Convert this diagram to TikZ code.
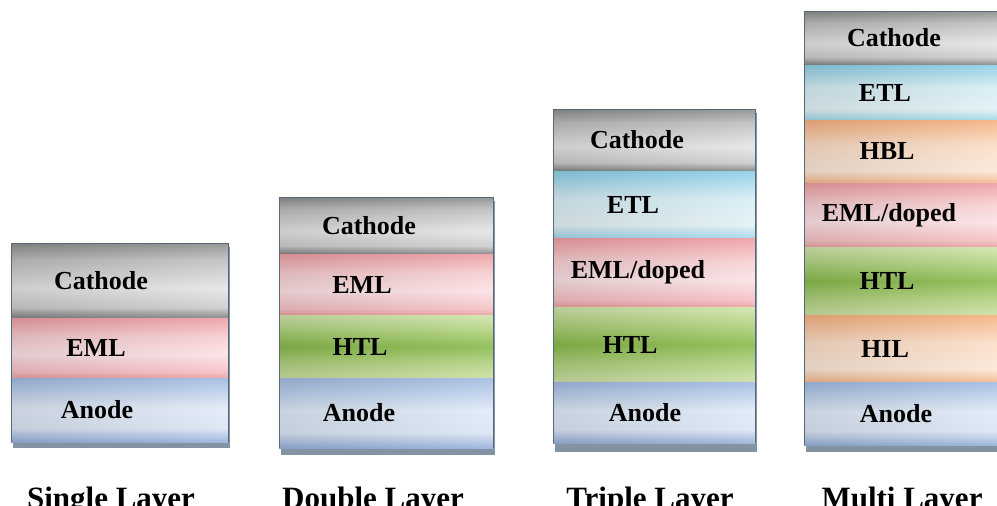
\documentclass[tikz,border=0pt]{standalone}
\usepackage{fontspec}
\setmainfont{Liberation Serif}
\usetikzlibrary{shadings}

\definecolor{edgec}{HTML}{56687A}
\definecolor{shadowc}{HTML}{8493A3}

% glossy layer fills; stops run from the top (25bp) to the bottom (75bp)
\pgfdeclareverticalshading{cathodesh}{100bp}{
  color(0bp)=(black!45); color(25bp)=(black!45); color(36bp)=(black!25);
  color(55bp)=(black!10); color(68bp)=(black!20); color(75bp)=(black!50); color(100bp)=(black!50)}
\pgfdeclareverticalshading{emlsh}{100bp}{
  rgb(0bp)=(.93,.62,.63); rgb(25bp)=(.93,.62,.63); rgb(40bp)=(.97,.80,.81);
  rgb(55bp)=(.99,.89,.90); rgb(70bp)=(.96,.75,.76); rgb(75bp)=(.92,.62,.63); rgb(100bp)=(.92,.62,.63)}
\pgfdeclareverticalshading{htlsh}{100bp}{
  rgb(0bp)=(.82,.90,.68); rgb(25bp)=(.82,.90,.68); rgb(36bp)=(.70,.83,.51);
  rgb(50bp)=(.54,.73,.30); rgb(64bp)=(.70,.83,.51); rgb(75bp)=(.80,.88,.64); rgb(100bp)=(.80,.88,.64)}
\pgfdeclareverticalshading{etlsh}{100bp}{
  rgb(0bp)=(.55,.81,.90); rgb(25bp)=(.55,.81,.90); rgb(45bp)=(.84,.93,.96);
  rgb(65bp)=(.89,.95,.97); rgb(75bp)=(.63,.84,.91); rgb(100bp)=(.63,.84,.91)}
\pgfdeclareverticalshading{hblsh}{100bp}{
  rgb(0bp)=(.96,.69,.50); rgb(25bp)=(.96,.69,.50); rgb(45bp)=(.99,.87,.78);
  rgb(65bp)=(.99,.91,.85); rgb(75bp)=(.96,.72,.55); rgb(100bp)=(.96,.72,.55)}
\pgfdeclareverticalshading{anodesh}{100bp}{
  rgb(0bp)=(.63,.73,.89); rgb(25bp)=(.63,.73,.89); rgb(48bp)=(.88,.92,.97);
  rgb(64bp)=(.86,.90,.96); rgb(75bp)=(.59,.69,.85); rgb(100bp)=(.59,.69,.85)}

\tikzset{
  cathode/.style={shading=cathodesh, shading angle=180},
  eml/.style={shading=emlsh, shading angle=180},
  htl/.style={shading=htlsh, shading angle=180},
  etl/.style={shading=etlsh, shading angle=180},
  hbl/.style={shading=hblsh, shading angle=180},
  anode/.style={shading=anodesh, shading angle=180},
  sheen/.style={left color=black, right color=white, opacity=0.10},
  lbl/.style={inner sep=0pt, font=\fontsize{26}{28}\selectfont\bfseries},
  caption/.style={inner sep=0pt, anchor=base, font=\fontsize{31}{34}\selectfont\bfseries},
  stackedge/.style={draw=edgec, line width=1pt},
  stackshadow/.style={fill=shadowc},
}

% one layer of a stack: name, x1, x2, y1, y2, look, text x, text
\newcommand\oledlayer[8]{%
  \shade[#6] (#2,#4) rectangle (#3,#5);
  \shade[sheen] (#2,#4) rectangle (#3,#5);
  \path (#2,#4) coordinate (#1-nw) (#3,#5) coordinate (#1-se);
  \node[lbl] (#1) at (#7,{(#4+#5)/2}) {#8};
}

\begin{document}
\begin{tikzpicture}[x=1pt,y=-1pt]
\useasboundingbox (0,0) rectangle (997,506);
\fill[white] (0,0) rectangle (997,506);
\clip (0,0) rectangle (997,506);

% drop shadows under the stacks
\fill[stackshadow] (13,247) rectangle (230,448);
\fill[stackshadow] (281,201) rectangle (495,455);
\fill[stackshadow] (555,113) rectangle (757,452);
\fill[stackshadow] (806,15) rectangle (1002,452);

% single layer
\oledlayer{s1}{11}{228}{243}{318}{cathode}{101}{Cathode}
\oledlayer{s2}{11}{228}{318}{378}{eml}{96}{EML}
\oledlayer{s3}{11}{228}{378}{442}{anode}{97}{Anode}
\draw[stackedge] (s3-se -| s1-nw) -- (s1-nw) -- (s1-nw -| s3-se) -- (s3-se);

% double layer
\oledlayer{d1}{279}{493}{197}{254}{cathode}{369}{Cathode}
\oledlayer{d2}{279}{493}{254}{315}{eml}{362}{EML}
\oledlayer{d3}{279}{493}{315}{378}{htl}{360}{HTL}
\oledlayer{d4}{279}{493}{378}{448}{anode}{359}{Anode}
\draw[stackedge] (d4-se -| d1-nw) -- (d1-nw) -- (d1-nw -| d4-se) -- (d4-se);

% triple layer
\oledlayer{t1}{553}{755}{109}{171}{cathode}{637}{Cathode}
\oledlayer{t2}{553}{755}{171}{238}{etl}{633}{ETL}
\oledlayer{t3}{553}{755}{238}{307}{eml}{638}{EML/doped}
\oledlayer{t4}{553}{755}{307}{382}{htl}{630}{HTL}
\oledlayer{t5}{553}{755}{382}{443}{anode}{645}{Anode}
\draw[stackedge] (t5-se -| t1-nw) -- (t1-nw) -- (t1-nw -| t5-se) -- (t5-se);

% multi layer
\oledlayer{m1}{804}{1000}{11}{65}{cathode}{894}{Cathode}
\oledlayer{m2}{804}{1000}{65}{120}{etl}{885}{ETL}
\oledlayer{m3}{804}{1000}{120}{183}{hbl}{887}{HBL}
\oledlayer{m4}{804}{1000}{183}{247}{eml}{889}{EML/doped}
\oledlayer{m5}{804}{1000}{247}{315}{htl}{887}{HTL}
\oledlayer{m6}{804}{1000}{315}{382}{hbl}{885}{HIL}
\oledlayer{m7}{804}{1000}{382}{445}{anode}{896}{Anode}
\draw[stackedge] (m7-se -| m1-nw) -- (m1-nw) -- (m1-nw -| m7-se);

% captions
\node[caption] (cs) at (111,508) {Single Layer};
\node[caption] (cd) at (373,508) {Double Layer};
\node[caption] (ct) at (650,508) {Triple Layer};
\node[caption] (cm) at (902,508) {Multi Layer};
\end{tikzpicture}
\end{document}
